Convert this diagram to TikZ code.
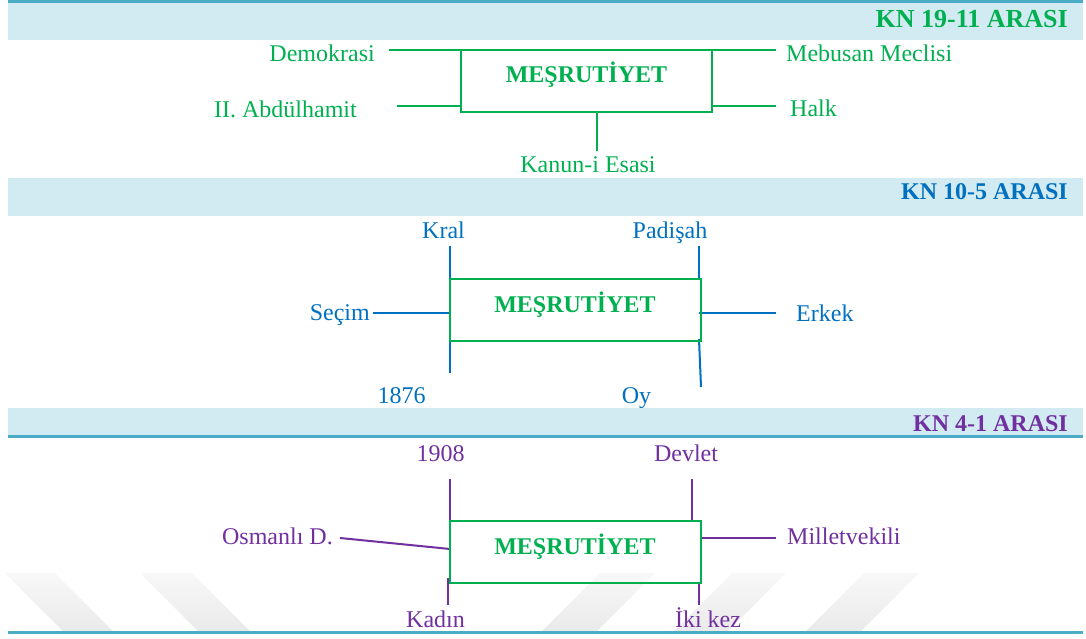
\documentclass[tikz,border=0pt]{standalone}
\usepackage{fontspec}
\setmainfont{Liberation Serif}
\definecolor{grn}{HTML}{00B050}
\definecolor{blu}{HTML}{0070C0}
\definecolor{pur}{HTML}{7030A0}
\definecolor{bandc}{HTML}{D2EAF1}
\definecolor{rulec}{HTML}{4BACC6}
\definecolor{wmark}{HTML}{EAEAEA}
\definecolor{wmtop}{HTML}{F8F8F8}
\begin{document}
\begin{tikzpicture}[x=1pt,y=-1pt,
  lbl/.style={inner sep=0pt, font=\fontsize{24}{28}\selectfont},
  ttl/.style={inner sep=0pt, anchor=base east, font=\fontsize{24}{28}\selectfont\bfseries},
  mtext/.style={inner sep=0pt, anchor=base, text=grn, font=\fontsize{24}{28}\selectfont\bfseries},
  mbox/.style={draw=grn, line width=2pt, minimum width=251pt, minimum height=62pt, inner sep=0pt},
  gline/.style={draw=grn, line width=2pt},
  bline/.style={draw=blu, line width=2pt},
  pline/.style={draw=pur, line width=2pt},
  band/.style={fill=bandc},
  rule/.style={fill=rulec},
  wm/.style={top color=wmtop, bottom color=wmark}]
\useasboundingbox (0,0) rectangle (1086,639);
% watermark stripes
\shade[wm] (5,573) -- (55,573) -- (113,631) -- (63,631) -- cycle;
\shade[wm] (140,573) -- (192,573) -- (250,631) -- (198,631) -- cycle;
\shade[wm] (600,573) -- (655,573) -- (597,631) -- (542,631) -- cycle;
\shade[wm] (732,573) -- (786,573) -- (728,631) -- (674,631) -- cycle;
\shade[wm] (864,573) -- (919,573) -- (861,631) -- (806,631) -- cycle;

% ---------- section 1 ----------
\fill[rule] (8,0) rectangle (1083,3);
\fill[band] (8,3) rectangle (1083,40);
\node[ttl, text=grn, font=\fontsize{26}{30}\selectfont\bfseries] (k1) at (1068,28) {KN 19-11 ARASI};

\coordinate (a1) at (389,50);  \coordinate (a2) at (776,50);
\coordinate (a3) at (397,106); \coordinate (a4) at (461,106);
\coordinate (a5) at (712,106); \coordinate (a6) at (776,106);
\coordinate (a7) at (597,112); \coordinate (a8) at (597,151);
\node[mbox] (b1) at (586.5,81) {};
\draw[gline] (a1) -- (a2);
\draw[gline] (a3) -- (a4);
\draw[gline] (a5) -- (a6);
\draw[gline] (a7) -- (a8);
\node[mtext] (t1) at (586.5,83) {MEŞRUTİYET};
\node[lbl, text=grn, anchor=base east] (demo) at (375,62) {Demokrasi};
\node[lbl, text=grn, anchor=base east] (abd) at (357,118) {II. Abdülhamit};
\node[lbl, text=grn, anchor=base west] (meb) at (786,62) {Mebusan Meclisi};
\node[lbl, text=grn, anchor=base west] (halk) at (790,117) {Halk};
\node[lbl, text=grn, anchor=base] (kan) at (588,173) {Kanun-i Esasi};

% ---------- section 2 ----------
\fill[band] (8,178) rectangle (1083,216);
\node[ttl, text=blu] (k2) at (1068,200) {KN 10-5 ARASI};

\coordinate (c1) at (450,246); \coordinate (c2) at (450,373);
\coordinate (c3) at (699,246); \coordinate (c4) at (699,279);
\coordinate (c5) at (699,339); \coordinate (c6) at (701,387);
\coordinate (c7) at (373,313); \coordinate (c8) at (450,313);
\coordinate (c9) at (699,313); \coordinate (c10) at (776,313);
\draw[bline] (c1) -- (c2);
\draw[bline] (c3) -- (c4);
\draw[bline] (c5) -- (c6);
\draw[bline] (c7) -- (c8);
\draw[bline] (c9) -- (c10);
\node[mbox] (b2) at (575.5,310) {};
\node[mtext] (t2) at (575,312) {MEŞRUTİYET};
\node[lbl, text=blu, anchor=base] (kral) at (443.5,238) {Kral};
\node[lbl, text=blu, anchor=base] (padi) at (670,238) {Padişah};
\node[lbl, text=blu, anchor=base east] (secim) at (370,320) {Seçim};
\node[lbl, text=blu, anchor=base west] (erkek) at (796,321) {Erkek};
\node[lbl, text=blu, anchor=base] (y1876) at (401.5,403) {1876};
\node[lbl, text=blu, anchor=base] (oy) at (636.5,403) {Oy};

% ---------- section 3 ----------
\fill[band] (8,408) rectangle (1083,435);
\fill[rule] (8,435) rectangle (1083,438);
\node[ttl, text=pur] (k3) at (1068,431) {KN 4-1 ARASI};

\coordinate (e1) at (450,479);  \coordinate (e2) at (450,521);
\coordinate (e3) at (692,479);  \coordinate (e4) at (692,521);
\coordinate (e5) at (340,538);  \coordinate (e6) at (450,549);
\coordinate (e7) at (701,538);  \coordinate (e8) at (776,538);
\coordinate (e9) at (448,578);  \coordinate (e10) at (448,605);
\coordinate (e11) at (699,583); \coordinate (e12) at (699,605);
\draw[pline] (e1) -- (e2);
\draw[pline] (e3) -- (e4);
\draw[pline] (e5) -- (e6);
\draw[pline] (e7) -- (e8);
\draw[pline] (e9) -- (e10);
\draw[pline] (e11) -- (e12);
\node[mbox] (b3) at (575.5,552) {};
\node[mtext] (t3) at (575,554) {MEŞRUTİYET};
\node[lbl, text=pur, anchor=base] (y1908) at (440.5,461) {1908};
\node[lbl, text=pur, anchor=base] (devlet) at (686,461) {Devlet};
\node[lbl, text=pur, anchor=base east] (osm) at (333,544) {Osmanlı D.};
\node[lbl, text=pur, anchor=base west] (mil) at (787,544) {Milletvekili};
\node[lbl, text=pur, anchor=base] (kadin) at (435.5,627) {Kadın};
\node[lbl, text=pur, anchor=base] (iki) at (708,627) {İki kez};
\fill[rule] (8,631) rectangle (1083,634);
\end{tikzpicture}
\end{document}
